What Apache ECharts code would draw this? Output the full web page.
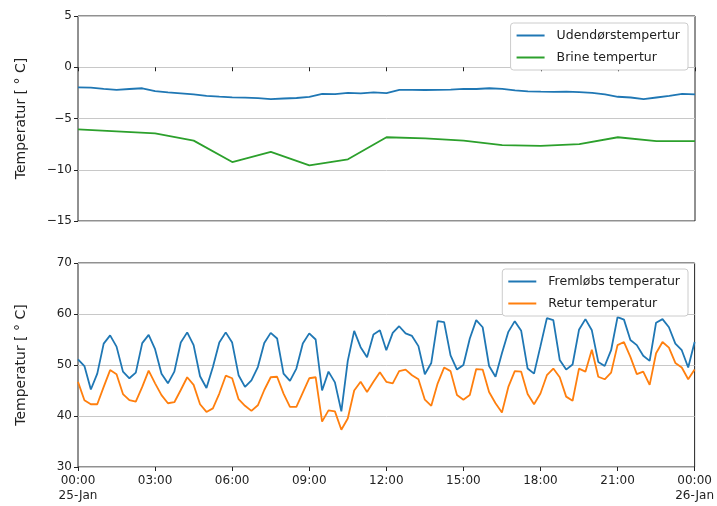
<!DOCTYPE html>
<html>
<head>
<meta charset="utf-8">
<script src="https://cdn.jsdelivr.net/npm/echarts@6/dist/echarts.min.js"></script>
<style>html,body{margin:0;padding:0;background:#fff;}#c{width:717px;height:506px;}</style>
</head>
<body>
<div id="c"></div>
<script>
// Tick labels
const xTickLabels = ['00:00\n25-Jan','03:00','06:00','09:00','12:00','15:00','18:00','21:00','00:00\n26-Jan'];
// Top panel: outdoor temperature (every 30 min) and brine temperature (every 1.5 h)
const udendoersTemp = [-1.96,-1.98,-2.1,-2.2,-2.12,-2.05,-2.32,-2.45,-2.55,-2.65,-2.8,-2.87,-2.93,-2.97,-3.02,-3.1,-3.05,-3.0,-2.9,-2.6,-2.62,-2.5,-2.54,-2.45,-2.52,-2.2,-2.2,-2.22,-2.2,-2.18,-2.1,-2.12,-2.05,-2.1,-2.25,-2.35,-2.38,-2.4,-2.38,-2.42,-2.5,-2.65,-2.88,-2.95,-3.1,-2.95,-2.8,-2.6,-2.64];
const brineTemp = [-6.06,-6.25,-6.45,-7.16,-9.25,-8.25,-9.57,-8.98,-6.83,-6.93,-7.16,-7.6,-7.68,-7.5,-6.83,-7.2,-7.2];
// Bottom panel: supply and return temperature (every 15 min)
const fremloebsTemp = [51.1,49.8,45.2,48.3,54.2,55.8,53.6,48.7,47.4,48.5,54.3,55.9,53.1,48.3,46.4,48.7,54.4,56.4,53.9,47.8,45.5,49.6,54.4,56.4,54.4,48.0,45.7,47.0,49.6,54.3,56.3,55.2,48.3,46.9,49.3,54.2,56.2,55.0,45.0,48.7,46.6,40.9,50.8,56.7,53.5,51.5,56.0,56.8,52.9,56.3,57.6,56.2,55.7,53.7,48.2,50.4,58.6,58.4,51.9,49.1,50.0,55.2,58.8,57.4,49.8,47.7,52.3,56.5,58.6,56.7,49.3,48.3,53.7,59.2,58.8,51.0,49.1,50.1,56.9,59.0,56.8,50.6,49.8,52.9,59.4,58.9,54.9,53.9,51.8,50.8,58.3,59.0,57.4,54.2,52.9,49.5,54.5];
const returTemp = [46.7,43.1,42.3,42.3,45.7,49.0,48.2,44.3,43.1,42.8,45.7,48.9,46.4,44.1,42.5,42.7,45.1,47.6,46.1,42.3,40.8,41.5,44.4,47.9,47.4,43.3,42.0,41.0,42.1,45.1,47.6,47.7,44.4,41.8,41.8,44.6,47.4,47.6,38.9,41.1,40.9,37.3,39.5,45.0,46.7,44.7,46.7,48.6,46.7,46.4,48.8,49.1,48.0,47.2,43.2,42.0,46.4,49.5,48.8,44.1,43.2,44.1,49.2,49.1,44.7,42.5,40.7,45.7,48.8,48.7,44.3,42.3,44.4,48.0,49.3,47.6,43.8,43.0,49.3,48.7,53.0,47.7,47.2,48.5,53.9,54.5,51.6,48.2,48.7,46.1,52.3,54.5,53.4,50.4,49.5,47.2,49.1];

function withHours(vals, stepHours){ return vals.map((v,i)=>[i*stepHours, v]); }

const FONT = 'DejaVu Sans';
const chart = echarts.init(document.getElementById('c'), null, {renderer:'canvas'});
const minusFmt = v => String(v).replace('-', '\u2212');
function xAxis(gridIndex, showLabels){
  return {
    type:'value', gridIndex, min:0, max:24, interval:3,
    axisLine:{show:false},
    axisTick:{show:true, inside:false, length:4, lineStyle:{color:'#222', width:1}},
    splitLine:{show:false},
    axisLabel:{show:showLabels, color:'#222', fontFamily:FONT, fontSize:12, lineHeight:15, margin:6,
      formatter: v => xTickLabels[Math.round(v/3)]}
  };
}
function yAxis(gridIndex, min, max, interval){
  return {
    type:'value', gridIndex, min, max, interval,
    name:'Temperatur [ \u00B0 C]', nameLocation:'middle', nameGap:50,
    nameTextStyle:{color:'#222', fontFamily:FONT, fontSize:14},
    axisLine:{show:false},
    axisTick:{show:true, inside:false, length:4, lineStyle:{color:'#222', width:1}},
    splitLine:{show:true, lineStyle:{color:'#c8c8c8', width:1}},
    axisLabel:{color:'#222', fontFamily:FONT, fontSize:12, margin:6, formatter:minusFmt}
  };
}
function legend(names, top){
  return {
    data:names, orient:'vertical', right:29, top, icon:'rect', itemWidth:28, itemHeight:2,
    itemGap:9, padding:[6,8,6,6], borderColor:'#cccccc', borderWidth:1, borderRadius:3,
    backgroundColor:'#fff',
    textStyle:{color:'#222', fontFamily:FONT, fontSize:12.5, padding:[0,0,0,7]}
  };
}
function line(name, data, color, xi){
  return {name, type:'line', xAxisIndex:xi, yAxisIndex:xi, data, showSymbol:false, symbol:'none',
    lineStyle:{color, width:1.8}, itemStyle:{color}, animation:false, z:3};
}
chart.setOption({
  animation:false,
  grid:[
    {left:78, right:22, top:16, height:205, show:true, borderColor:'#222', borderWidth:1, backgroundColor:'transparent'},
    {left:78, right:22, top:263, height:204, show:true, borderColor:'#222', borderWidth:1, backgroundColor:'transparent'}
  ],
  xAxis:[xAxis(0,false), xAxis(1,true)],
  yAxis:[yAxis(0,-15,5,5), yAxis(1,30,70,10)],
  legend:[legend(['Udendørstempertur','Brine tempertur'],23), legend(['Fremløbs temperatur','Retur temperatur'],269)],
  series:[
    line('Udendørstempertur', withHours(udendoersTemp,0.5), '#1f77b4', 0),
    line('Brine tempertur', withHours(brineTemp,1.5), '#2ca02c', 0),
    line('Fremløbs temperatur', withHours(fremloebsTemp,0.25), '#1f77b4', 1),
    line('Retur temperatur', withHours(returTemp,0.25), '#ff7f0e', 1)
  ]
});
</script>
</body>
</html>
